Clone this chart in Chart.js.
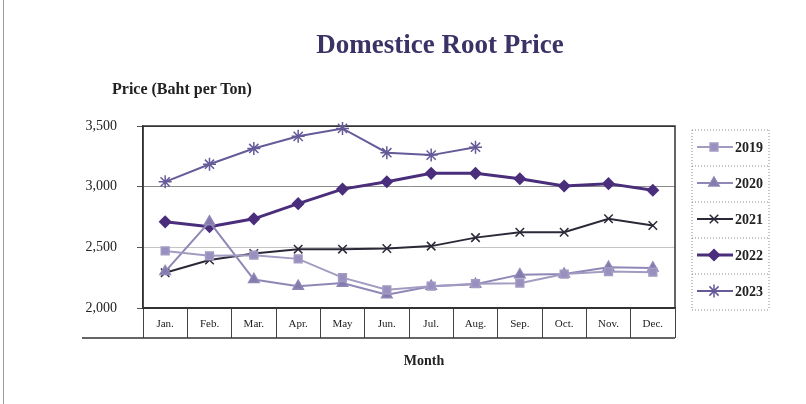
<!DOCTYPE html>
<html>
<head>
<meta charset="utf-8">
<script src="https://cdn.jsdelivr.net/npm/chart.js@4.4.0/dist/chart.umd.min.js"></script>
<style>
  body { margin: 0; background: #fff; }
  #wrap { position: relative; width: 806px; height: 404px; overflow: hidden; }
  #edge { position: absolute; left: 3px; top: 0; width: 1px; height: 404px; background: #9a9a9a; }
  .lbl { position: absolute; font-family: "Liberation Serif", serif; font-weight: bold; white-space: nowrap; }
  #title { left: 240px; width: 400px; top: 29px; text-align: center; font-size: 27px; color: #3b3266; }
  #ytitle { left: 112px; top: 80px; font-size: 16px; color: #222; }
  #xtitle { left: 344px; width: 160px; top: 353px; text-align: center; font-size: 14px; color: #222; }
</style>
</head>
<body>
<div id="wrap">
  <div id="edge"></div>
  <canvas id="lineChart" width="806" height="404"></canvas>
  <div class="lbl" id="title">Domestice Root Price</div>
  <div class="lbl" id="ytitle">Price (Baht per Ton)</div>
  <div class="lbl" id="xtitle">Month</div>
</div>
<script>
var months = ['Jan.', 'Feb.', 'Mar.', 'Apr.', 'May', 'Jun.', 'Jul.', 'Aug.', 'Sep.', 'Oct.', 'Nov.', 'Dec.']
var yTicks = [2000, 2500, 3000, 3500]

var years = ['2019', '2020', '2021', '2022', '2023']
var p2019 = [2470, 2430, 2435, 2405, 2250, 2150, 2180, 2200, 2205, 2280, 2300, 2295]
var p2020 = [2300, 2710, 2235, 2180, 2205, 2110, 2180, 2195, 2275, 2280, 2335, 2330]
var p2021 = [2290, 2395, 2450, 2485, 2485, 2490, 2510, 2580, 2625, 2625, 2735, 2680]
var p2022 = [2710, 2670, 2735, 2860, 2980, 3040, 3110, 3110, 3065, 3005, 3025, 2970]
var p2023 = [3040, 3185, 3315, 3415, 3480, 3280, 3260, 3325]

var serif = '"Liberation Serif", "Times New Roman", serif'

function series(label, data, color, fill, style, radius, width) {
  return {
    label: label,
    data: data,
    borderColor: color,
    backgroundColor: fill,
    borderWidth: width,
    pointStyle: style,
    pointRadius: radius,
    pointHoverRadius: radius,
    pointBackgroundColor: fill,
    pointBorderColor: color,
    pointBorderWidth: 1.5,
    tension: 0,
    clip: false
  }
}

// frame round the plot, the line under the month table, and the legend box
var framePlugin = {
  id: 'frame',
  beforeDatasetsDraw: function (chart) {
    var a = chart.chartArea, ctx = chart.ctx
    ctx.save()
    ctx.strokeStyle = '#333'
    ctx.lineWidth = 1.5
    ctx.strokeRect(a.left, a.top, a.right - a.left, a.bottom - a.top)
    ctx.beginPath()
    ctx.moveTo(82, a.bottom + 30)
    ctx.lineTo(a.right, a.bottom + 30)
    ctx.stroke()
    ctx.restore()
  },
  afterDraw: function (chart) {
    var ctx = chart.ctx
    var left = 692, right = 769, top = 130, step = 36
    ctx.save()
    ctx.strokeStyle = '#8a8a8a'
    ctx.lineWidth = 1
    ctx.setLineDash([1, 2])
    ctx.beginPath()
    ctx.moveTo(left, top); ctx.lineTo(left, top + step * 5)
    ctx.moveTo(right, top); ctx.lineTo(right, top + step * 5)
    for (var i = 0; i <= 5; i++) {
      ctx.moveTo(left, top + step * i); ctx.lineTo(right, top + step * i)
    }
    ctx.stroke()
    ctx.setLineDash([])
    chart.data.datasets.forEach(function (ds, i) {
      var y = top + step * i + 17
      ctx.strokeStyle = ds.borderColor
      ctx.lineWidth = ds.borderWidth
      ctx.beginPath()
      ctx.moveTo(697, y); ctx.lineTo(733, y)
      ctx.stroke()
      ctx.fillStyle = ds.pointBackgroundColor
      ctx.strokeStyle = ds.pointBorderColor
      ctx.lineWidth = ds.pointBorderWidth
      Chart.helpers.drawPoint(ctx, { pointStyle: ds.pointStyle, radius: ds.pointRadius, rotation: 0, borderWidth: ds.pointBorderWidth }, 714, y)
      ctx.fillStyle = '#222'
      ctx.font = 'bold 14px ' + serif
      ctx.textBaseline = 'middle'
      ctx.fillText(ds.label, 735, y + 1)
    })
    ctx.restore()
  }
}

var ctx = document.getElementById('lineChart').getContext('2d')
var lineChart = new Chart(ctx, {
  type: 'line',
  data: {
    labels: months,
    datasets: [
      series(years[0], p2019, '#a39bc2', '#9a90bf', 'rect', 5.5, 2),
      series(years[1], p2020, '#8f87b6', '#847aae', 'triangle', 6, 2),
      series(years[2], p2021, '#2c2838', '#2c2838', 'crossRot', 6, 2),
      series(years[3], p2022, '#4a2e7c', '#4a2e7c', 'rectRot', 5.5, 3),
      series(years[4], p2023, '#665a99', '#665a99', 'star', 6.5, 2)
    ]
  },
  options: {
    responsive: false,
    animation: false,
    locale: 'en-US',
    layout: { padding: { left: 0, right: 131, top: 126, bottom: 66 } },
    plugins: {
      legend: { display: false },
      title: { display: false },
      tooltip: { enabled: false }
    },
    scales: {
      x: {
        type: 'category',
        offset: true,
        afterFit: function (s) { s.height = 30 },
        grid: { offset: true, drawOnChartArea: false, drawTicks: true, tickLength: 30, color: '#444', lineWidth: 1 },
        border: { display: true, color: '#333', width: 1.5 },
        ticks: { padding: -20, maxRotation: 0, autoSkip: false, color: '#222', font: { family: serif, size: 11 } }
      },
      y: {
        min: 2000,
        max: 3500,
        afterFit: function (s) { s.width = 143 },
        afterBuildTicks: function (s) { s.ticks = yTicks.map(function (v) { return { value: v } }) },
        grid: {
          tickLength: 6,
          color: function (c) {
            var v = c.tick ? c.tick.value : 0
            if (v === 3000) return '#8c8c8c'
            if (v === 2500) return '#c4c4c4'
            return '#333'
          },
          tickColor: '#555'
        },
        border: { display: true, color: '#333', width: 1.5 },
        ticks: { padding: 20, color: '#222', font: { family: serif, size: 14 } }
      }
    }
  },
  plugins: [framePlugin]
})
</script>
</body>
</html>
